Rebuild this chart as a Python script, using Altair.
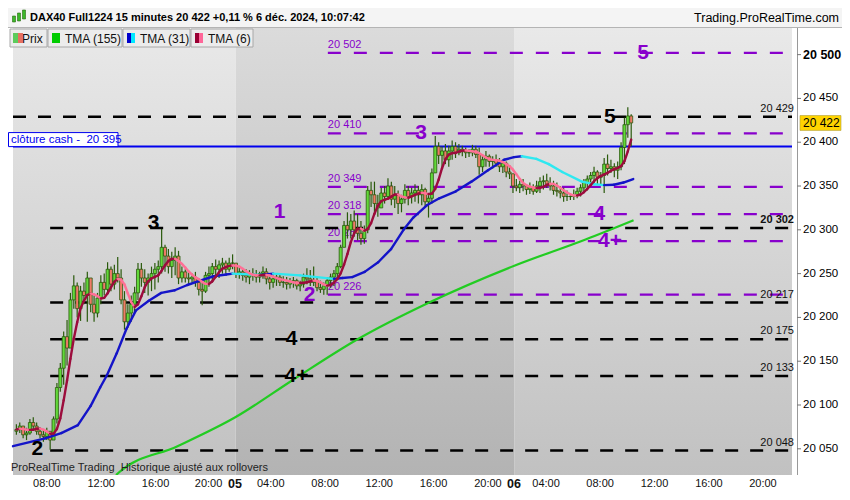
import altair as alt
import pandas as pd

# ---------------- data ----------------
# 15-minute bars, slot index 1..183 (Dec 4 ~05:45 -> Dec 6 10:00)
high = [20078,20080,20076,20074,20084,20086,20080,20074,20072,20074,20066,20087,20125,20148,20184,20197,20228,20248,20240,20236,
        20240,20252,20243,20225,20228,20248,20250,20263,20258,20260,20269,20255,20230,20215,20225,20235,20262,20262,20255,20250,
        20258,20262,20265,20301,20283,20278,20275,20280,20276,20258,20255,20252,20250,20252,20245,20240,20252,20258,20262,20266,
        20265,20268,20265,20268,20272,20262,20258,20256,20255,20254,20256,20254,20252,20258,20256,20250,20248,20250,20250,20247,
        20246,20245,20246,20244,20242,20250,20256,20254,20258,20246,20242,20240,20246,20250,20254,20262,20283,20310,20320,20318,
        20322,20318,20310,20305,20350,20355,20355,20340,20348,20350,20359,20355,20350,20345,20340,20352,20350,20348,20352,20350,
        20352,20348,20340,20370,20407,20400,20395,20398,20396,20402,20400,20398,20396,20394,20392,20397,20396,20394,20385,20390,
        20386,20384,20386,20382,20380,20378,20374,20362,20358,20356,20358,20352,20354,20352,20356,20360,20362,20364,20360,20356,
        20354,20350,20348,20345,20342,20346,20348,20352,20358,20362,20366,20372,20368,20366,20382,20386,20380,20376,20378,20400,
        20428,20440,20432]
low = [20066,20068,20062,20060,20066,20072,20066,20062,20058,20060,20049,20067,20079,20115,20123,20145,20186,20210,20200,20196,
       20215,20195,20206,20195,20200,20215,20225,20228,20230,20232,20240,20215,20186,20188,20195,20205,20220,20235,20228,20225,
       20230,20232,20240,20250,20252,20250,20245,20248,20238,20240,20240,20238,20240,20235,20225,20214,20228,20235,20240,20248,
       20245,20250,20250,20252,20255,20245,20244,20242,20240,20238,20242,20240,20240,20244,20238,20232,20234,20236,20236,20234,
       20232,20233,20234,20232,20230,20234,20238,20236,20236,20230,20228,20226,20226,20234,20236,20244,20256,20285,20290,20290,
       20292,20288,20283,20284,20296,20326,20320,20315,20326,20330,20337,20328,20325,20318,20320,20330,20328,20330,20332,20330,
       20328,20326,20314,20330,20365,20375,20370,20375,20372,20380,20382,20385,20384,20382,20383,20384,20382,20363,20366,20372,
       20372,20370,20372,20366,20365,20360,20358,20342,20344,20342,20344,20340,20341,20340,20342,20342,20346,20348,20345,20340,
       20338,20336,20332,20333,20334,20334,20336,20338,20342,20345,20350,20352,20352,20352,20342,20362,20365,20360,20358,20368,
       20375,20405,20395]
close = [20072,20076,20066,20068,20080,20076,20070,20066,20064,20070,20060,20084,20120,20142,20178,20165,20220,20236,20210,20230,
         20225,20245,20215,20205,20222,20240,20232,20255,20238,20250,20245,20220,20195,20205,20215,20228,20255,20245,20240,20245,
         20250,20255,20258,20280,20270,20258,20265,20270,20245,20252,20245,20244,20246,20240,20232,20230,20248,20250,20258,20255,
         20260,20262,20255,20262,20262,20250,20252,20248,20246,20250,20248,20246,20250,20252,20244,20240,20244,20246,20240,20240,
         20238,20240,20242,20236,20238,20246,20244,20240,20242,20234,20232,20236,20242,20246,20250,20258,20280,20305,20300,20310,
         20300,20296,20290,20300,20345,20340,20330,20325,20342,20338,20350,20335,20340,20330,20335,20345,20338,20342,20345,20340,
         20346,20332,20336,20365,20395,20385,20390,20380,20390,20395,20388,20392,20390,20388,20388,20392,20386,20372,20380,20384,
         20378,20380,20376,20372,20376,20366,20364,20350,20348,20352,20350,20346,20348,20344,20350,20355,20356,20352,20350,20345,
         20344,20342,20338,20338,20338,20340,20344,20348,20354,20358,20362,20366,20360,20362,20375,20370,20372,20368,20372,20394,
         20420,20430,20422]
first_open = 20070

# TMA(31)
tma31_slot = [0, 9.5, 14.3, 19.2, 23, 25.8, 27.8, 30.7, 33.6, 36.4, 40.2, 43.9, 47.9, 51.6, 55.4, 59.4, 63.1, 65,
              73.5, 77, 85, 95, 97.5, 100.4, 104.1, 108.1, 111.9, 115.6, 118.5, 122.5, 126.2, 131.1, 135.7, 140.6,
              145.4, 148.3, 150.6, 154.9, 158.6, 162.6, 168.4, 172.1, 175, 177.9, 180.7, 183.6]
tma31_val = [20053, 20062, 20068, 20077, 20099, 20120, 20134, 20159, 20187, 20208, 20219, 20228, 20231, 20237, 20242,
             20247, 20249, 20250, 20248.5, 20250, 20248, 20244, 20245, 20246, 20252, 20263, 20278, 20300, 20314, 20328,
             20336, 20344, 20355, 20368, 20380, 20383, 20384, 20381, 20375, 20366, 20355, 20352, 20351, 20351.5, 20354, 20358]

# TMA(155) (enters at the bottom edge)
tma155_slot = [30.5, 31.5, 48.7, 65.8, 83.4, 102.0, 123.2, 148.4, 169.5, 183.7]
tma155_val = [20020, 20023.5, 20053, 20086, 20130, 20175, 20217, 20259, 20289, 20311]

# horizontal levels
black_levels = [20429, 20302, 20217, 20175, 20133, 20048]
black_start = [0, 11, 11, 11, 11, 11]
purple_levels = [20502, 20410, 20349, 20318, 20287, 20226]
purple_start = 93.2
cash_close = 20395
last_price = 20422

# wave annotations
black_marks = ["2", "3", "4", "4+", "5"]
black_mark_slot = [7.2, 41.6, 82.5, 83.9, 176.7]
black_mark_price = [20050, 20308, 20175, 20133, 20429]
purple_marks = ["1", "2", "3", "4", "4+", "5"]
purple_mark_slot = [78.9, 87.8, 120.8, 173.6, 176.7, 186.5]
purple_mark_price = [20320, 20226, 20410, 20318, 20287, 20502]

# axes
price_ticks = [20050, 20100, 20150, 20200, 20250, 20300, 20350, 20400, 20450, 20500]
tick_slot = [10, 26.1, 42.2, 57.9, 65.7, 76.3, 92.4, 108.4, 124.5, 140.6, 148.3, 157.8, 173.8, 189.9, 206, 222]
tick_label = ["08:00", "12:00", "16:00", "20:00", "05", "04:00", "08:00", "12:00", "16:00", "20:00", "06",
              "04:00", "08:00", "12:00", "16:00", "20:00"]
day_bounds = [0, 65.9, 148.4, 230.6]

# ---------------- layout ----------------
W, H = 789, 447
PAD = {"left": 0, "top": 20, "right": 45, "bottom": 17}
TOTAL_W = W + PAD["right"]
XDOM = [0, 230.6]
YDOM = [20020.1, 20530.4]
FONT = "Liberation Sans"
PURPLE = "#8800cc"

xs = alt.Scale(domain=XDOM, nice=False, zero=False)
ys = alt.Scale(domain=YDOM, nice=False, zero=False)
X = lambda f: alt.X(f, type="quantitative", scale=xs, axis=None)
Y = lambda f: alt.Y(f, type="quantitative", scale=ys, axis=None)


def fmt(v):
    return f"{v:,}".replace(",", " ")


# ---------------- tables ----------------
opens = [first_open] + close[:-1]
bars = pd.DataFrame({"slot": list(range(1, len(close) + 1)), "open": opens,
                     "high": high, "low": low, "close": close})
bars["dir"] = ["up" if c >= o else "down" for o, c in zip(opens, close)]

cs = pd.Series(close, dtype=float)
tma6 = cs.rolling(3, min_periods=1).mean().rolling(4, min_periods=1).mean()
seg6 = pd.DataFrame({"s": bars["slot"][:-1].values, "v": tma6[:-1].values,
                     "s2": bars["slot"][1:].values, "v2": tma6[1:].values})
seg6["dir"] = ["up6" if b >= a else "down6" for a, b in zip(seg6["v"], seg6["v2"])]

seg31 = pd.DataFrame({"s": tma31_slot[:-1], "v": tma31_val[:-1], "s2": tma31_slot[1:], "v2": tma31_val[1:]})
seg31["dir"] = ["up31" if b >= a else "down31" for a, b in zip(seg31["v"], seg31["v2"])]

line_colors = alt.Scale(domain=["up31", "down31", "up6", "down6"],
                        range=["#1414c8", "#2ee8f0", "#9c0c3c", "#ff7096"])

t155 = pd.DataFrame({"slot": tma155_slot, "val": tma155_val})

days = pd.DataFrame({"s0": day_bounds[:-1], "s1": day_bounds[1:], "shade": ["light", "dark", "light"]})

blk = pd.DataFrame({"price": black_levels, "s0": black_start, "s1": XDOM[1],
                    "label": [fmt(v) for v in black_levels],
                    "bold": [v == 20302 for v in black_levels]})
pur = pd.DataFrame({"price": purple_levels, "s0": purple_start, "s1": XDOM[1],
                    "label": [fmt(v) for v in purple_levels]})
cash = pd.DataFrame({"price": [cash_close], "top": [cash_close + 16], "s0": [0], "s1": [XDOM[1]],
                     "mid": [cash_close + 8], "label": ["clôture cash -\u00a0 " + fmt(cash_close)]})
lastp = pd.DataFrame({"price": [last_price], "lo": [last_price - 8.5], "hi": [last_price + 8.5],
                      "label": [fmt(last_price)]})
bmarks = pd.DataFrame({"t": black_marks, "slot": black_mark_slot, "price": black_mark_price})
pmarks = pd.DataFrame({"t": purple_marks, "slot": purple_mark_slot, "price": purple_mark_price})
ticks = pd.DataFrame({"slot": tick_slot, "label": tick_label,
                      "bold": [len(t) == 2 for t in tick_label]})
yax = pd.DataFrame({"price": price_ticks, "label": [fmt(v) for v in price_ticks],
                    "bold": [v == 20500 for v in price_ticks]})


def grad(top, bottom):
    return alt.Gradient(gradient="linear", x1=0, x2=0, y1=0, y2=1,
                        stops=[alt.GradientStop(color=top, offset=0),
                               alt.GradientStop(color=bottom, offset=1)])


layers = []

# day backgrounds
for shade, (top, bot) in {"light": ("#e9e9e9", "#c1c1c1"), "dark": ("#dbdbdb", "#b3b3b3")}.items():
    layers.append(alt.Chart(days).transform_filter(alt.datum.shade == shade)
                  .mark_rect(fill=grad(top, bot))
                  .encode(x=X("s0"), x2="s1", y=alt.value(0), y2=alt.value(H)))

# right price axis (drawn as marks on the price scale)
layers.append(alt.Chart(yax).mark_rule(color="#999", strokeWidth=1).encode(
    x=alt.value(W + 0.5), y=alt.value(0), y2=alt.value(H)))
layers.append(alt.Chart(yax).mark_rule(color="#777", strokeWidth=1).encode(
    x=alt.value(W), x2=alt.value(W + 4), y=Y("price")))
for isbold, fw, fs in [(False, "normal", 11.5), (True, "bold", 12.5)]:
    layers.append(alt.Chart(yax).transform_filter(alt.datum.bold == isbold)
                  .mark_text(color="#000", font=FONT, fontSize=fs, fontWeight=fw, align="left",
                             baseline="middle").encode(
        x=alt.value(W + 6), y=Y("price"), text="label"))

# purple level lines
layers.append(alt.Chart(pur).mark_rule(color=PURPLE, strokeWidth=2.3, strokeDash=[13, 13]).encode(
    x=X("s0"), x2="s1", y=Y("price")))
layers.append(alt.Chart(pur).mark_text(color=PURPLE, font=FONT, fontSize=11, align="left",
                                       baseline="bottom", dy=-3).encode(
    x=X("s0"), y=Y("price"), text="label"))

# black level lines
layers.append(alt.Chart(blk).mark_rule(color="#000", strokeWidth=2.5, strokeDash=[13, 12]).encode(
    x=X("s0"), x2="s1", y=Y("price")))
for isbold, fw in [(False, "normal"), (True, "bold")]:
    layers.append(alt.Chart(blk).transform_filter(alt.datum.bold == isbold)
                  .mark_text(color="#111", font=FONT, fontSize=11, align="right", fontWeight=fw,
                             baseline="bottom", dy=-3).encode(
        x=alt.value(W - 3), y=Y("price"), text="label"))

# cash close line and box
layers.append(alt.Chart(cash).mark_rule(color="#0000ee", strokeWidth=2).encode(
    x=X("s0"), x2="s1", y=Y("price")))
layers.append(alt.Chart(cash).mark_rect(fill="white", stroke="#0000ee", strokeWidth=1).encode(
    x=alt.value(0.5), x2=alt.value(110), y=Y("price"), y2="top"))
layers.append(alt.Chart(cash).mark_text(color="#0000ee", font=FONT, fontSize=11.5, align="left",
                                        baseline="middle").encode(
    x=alt.value(3), y=Y("mid"), text="label"))

# TMA 155
layers.append(alt.Chart(t155).mark_line(color="#22cc22", strokeWidth=2.2, clip=True,
                                        interpolate="monotone").encode(
    x=X("slot"), y=Y("val")))

# candles
layers.append(alt.Chart(bars).mark_rule(color="#2a5a0c", strokeWidth=1.2).encode(
    x=X("slot"), y=Y("low"), y2="high"))
layers.append(alt.Chart(bars).mark_bar(size=3, stroke="#2a5a0c", strokeWidth=0.8).encode(
    x=X("slot"), y=Y("open"), y2="close",
    fill=alt.Fill("dir:N", scale=alt.Scale(domain=["up", "down"], range=["#62d93a", "#f07a68"]), legend=None)))

# TMA 31
layers.append(alt.Chart(seg31).mark_rule(strokeWidth=2.4, strokeCap="round", clip=True).encode(
    x=X("s"), x2="s2", y=Y("v"), y2="v2",
    color=alt.Color("dir:N", scale=line_colors, legend=None)))

# TMA 6
layers.append(alt.Chart(seg6).mark_rule(strokeWidth=2.4, strokeCap="round", clip=True).encode(
    x=X("s"), x2="s2", y=Y("v"), y2="v2",
    color=alt.Color("dir:N", scale=line_colors, legend=None)))

# wave labels
layers.append(alt.Chart(bmarks).mark_text(color="#000", font=FONT, fontSize=21, fontWeight="bold",
                                          align="center", baseline="middle").encode(
    x=X("slot"), y=Y("price"), text="t"))
layers.append(alt.Chart(pmarks).mark_text(color=PURPLE, font=FONT, fontSize=21, fontWeight="bold",
                                          align="center", baseline="middle").encode(
    x=X("slot"), y=Y("price"), text="t"))

# last price tag on the axis
layers.append(alt.Chart(lastp).mark_rect(fill="#ffd400", stroke="#b0a040", strokeWidth=0.6).encode(
    x=alt.value(W + 3), x2=alt.value(W + 44), y=Y("lo"), y2="hi"))
layers.append(alt.Chart(lastp).mark_text(color="#000", font=FONT, fontSize=12, align="left",
                                         baseline="middle").encode(
    x=alt.value(W + 6), y=Y("price"), text="label"))

# x axis labels
for isbold, fw, fs in [(False, "normal", 11), (True, "bold", 12.5)]:
    layers.append(alt.Chart(ticks).transform_filter(alt.datum.bold == isbold)
                  .mark_text(color="#111", font=FONT, fontSize=fs, fontWeight=fw, baseline="middle").encode(
        x=X("slot"), y=alt.value(H + 9), text="label"))

# footer text inside the plot
foot = pd.DataFrame({"t": ["ProRealTime Trading\u00a0 Historique ajusté aux rollovers"]})
layers.append(alt.Chart(foot).mark_text(color="#222", font=FONT, fontSize=11, align="left",
                                        baseline="middle").encode(
    x=alt.value(3), y=alt.value(H - 7), text="t"))

# header bar
hdr = pd.DataFrame({"t": ["DAX40 Full1224 15 minutes 20 422 +0,11 % 6 déc. 2024, 10:07:42"],
                    "r": ["Trading.ProRealTime.com"]})
layers.append(alt.Chart(hdr).mark_rect(fill="#f4f4f4").encode(
    x=alt.value(0), x2=alt.value(TOTAL_W), y=alt.value(-20), y2=alt.value(-1)))
layers.append(alt.Chart(hdr).mark_rule(color="#b4b4b4", strokeWidth=1).encode(
    x=alt.value(0), x2=alt.value(TOTAL_W), y=alt.value(-0.5)))
layers.append(alt.Chart(hdr).mark_text(color="#000", font=FONT, fontSize=11, fontWeight="bold",
                                       align="left", baseline="middle").encode(
    x=alt.value(22), y=alt.value(-10), text="t"))
layers.append(alt.Chart(hdr).mark_text(color="#000", font=FONT, fontSize=12.5, align="right",
                                       baseline="middle").encode(
    x=alt.value(TOTAL_W - 3), y=alt.value(-10), text="r"))
# tiny candle icon
for (x0, y0, y1, c) in [(6, -12, -6, "#3cb82a"), (11, -15, -7, "#3cb82a"), (16, -18, -9, "#3cb82a")]:
    layers.append(alt.Chart(hdr).mark_rect(fill=c, stroke="#2a6a10", strokeWidth=0.6).encode(
        x=alt.value(x0 - 1.5), x2=alt.value(x0 + 1.5), y=alt.value(y0), y2=alt.value(y1)))

# legend boxes
legend_boxes = [(2, 39, "Prix", 14, [("#5ccc5c", 5, 10), ("#e87060", 10, 15)]),
                (40, 114, "TMA (155)", 57, [("#00cc00", 44, 52)]),
                (115, 182, "TMA (31)", 132, [("#0000cc", 119, 123), ("#00e8ff", 123, 127)]),
                (183, 245, "TMA (6)", 200, [("#990033", 187, 191), ("#ff6699", 191, 195)])]
for (bx0, bx1, txt, tx, sw) in legend_boxes:
    d = pd.DataFrame({"t": [txt]})
    layers.append(alt.Chart(d).mark_rect(fill="#ececec", stroke="#a8a8a8", strokeWidth=1).encode(
        x=alt.value(bx0), x2=alt.value(bx1), y=alt.value(1), y2=alt.value(19)))
    layers.append(alt.Chart(d).mark_text(color="#111", font=FONT, fontSize=12, align="left",
                                         baseline="middle").encode(
        x=alt.value(tx), y=alt.value(10.5), text="t"))
    for (c, sx0, sx1) in sw:
        layers.append(alt.Chart(d).mark_rect(fill=c).encode(
            x=alt.value(sx0), x2=alt.value(sx1), y=alt.value(5), y2=alt.value(15)))

chart = alt.layer(*layers).properties(
    width=W, height=H,
    autosize=alt.AutoSizeParams(type="none"),
    padding=PAD,
    background="white",
).configure_view(stroke=None)

chart.save("out.html", embed_options={"renderer": "svg", "actions": False})
